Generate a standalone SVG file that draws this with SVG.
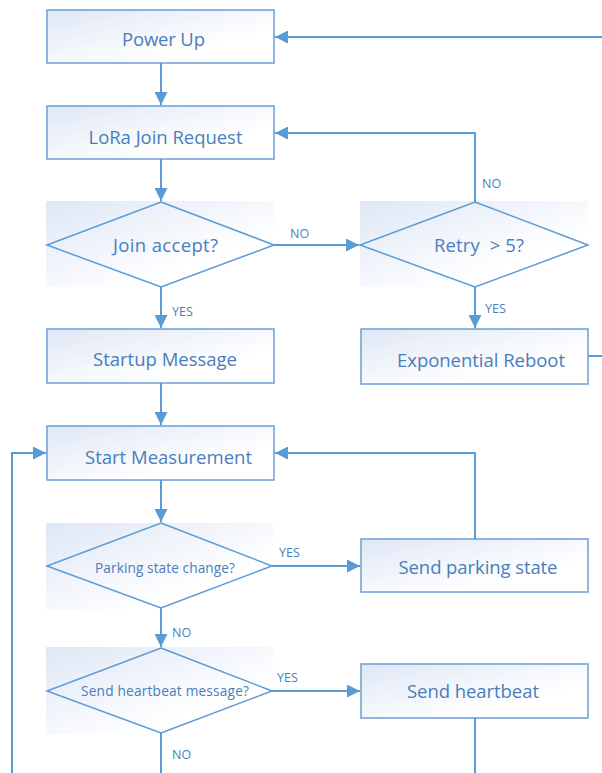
<svg xmlns="http://www.w3.org/2000/svg" width="602" height="773" viewBox="0 0 602 773">
<style>
.box{fill:url(#g);stroke:#6a9fd6;stroke-width:1.5}
.bg{fill:url(#g)}
.dia{fill:none;stroke:#5b9bd5;stroke-width:1.5}
.t{font-family:"Open Sans","Noto Sans",sans-serif;font-size:18.5px;fill:#4a7ebb;text-anchor:middle}
.s{font-family:"Open Sans","Noto Sans",sans-serif;font-size:13.7px;fill:#4a7ebb;text-anchor:middle}
.l{font-family:"Open Sans","Noto Sans",sans-serif;font-size:12.5px;fill:#4a7ebb}
.c{fill:none;stroke:#5b9bd5;stroke-width:2}
</style>
<defs>
<linearGradient id="g" x1="0" y1="0" x2="1" y2="1">
<stop offset="0" stop-color="#dfe7f5"/>
<stop offset="0.7" stop-color="#ffffff"/>
</linearGradient>
<marker id="a" viewBox="0 0 10 10" refX="10" refY="5" markerWidth="6.5" markerHeight="6.5" orient="auto" markerUnits="strokeWidth">
<path d="M0,0 L10,5 L0,10 Z" fill="#5b9bd5"/>
</marker>
</defs>
<rect width="602" height="773" fill="#ffffff"/>
<g id="power-up">
<rect class="box" x="47" y="10" width="227" height="53"/>
<text class="t" x="163.5" y="45.5" textLength="83">Power Up</text>
</g>
<g id="lora-join">
<rect class="box" x="47" y="106" width="227" height="53"/>
<text class="t" x="165.5" y="144" textLength="154">LoRa Join Request</text>
</g>
<g id="join-accept">
<rect class="bg" x="46" y="201" width="228" height="86"/>
<polygon class="dia" points="161,202 274,245 161,287 47,245"/>
<text class="t" x="165.5" y="252" textLength="105">Join accept?</text>
</g>
<g id="retry">
<rect class="bg" x="360" y="201" width="228" height="86"/>
<polygon class="dia" points="475,202 588,245 475,287 360,245"/>
<text class="t" x="479" y="252" textLength="90" xml:space="preserve">Retry  &gt; 5?</text>
</g>
<g id="startup">
<rect class="box" x="47" y="329" width="227" height="54"/>
<text class="t" x="165" y="366" textLength="144">Startup Message</text>
</g>
<g id="reboot">
<rect class="box" x="361" y="329" width="227" height="55"/>
<text class="t" x="481" y="366.5" textLength="168">Exponential Reboot</text>
</g>
<g id="start-measurement">
<rect class="box" x="47" y="426" width="227" height="54"/>
<text class="t" x="168.5" y="463.5" textLength="167">Start Measurement</text>
</g>
<g id="parking-change">
<rect class="bg" x="46" y="523" width="227" height="87"/>
<polygon class="dia" points="161,523 272,566 161,608 47,566"/>
<text class="s" x="165" y="572.5" textLength="140">Parking state change?</text>
</g>
<g id="send-parking">
<rect class="box" x="361" y="539" width="227" height="53"/>
<text class="t" x="478" y="574" textLength="159">Send parking state</text>
</g>
<g id="heartbeat-q">
<rect class="bg" x="46" y="647" width="227" height="87"/>
<polygon class="dia" points="161,648 272,691 161,733 47,691"/>
<text class="s" x="165" y="695.5" textLength="168">Send heartbeat message?</text>
</g>
<g id="send-heartbeat">
<rect class="box" x="361" y="664" width="227" height="54"/>
<text class="t" x="473" y="697.5" textLength="132">Send heartbeat</text>
</g>
<g id="connectors">
<path class="c" d="M161,63 V105" marker-end="url(#a)"/>
<path class="c" d="M161,159 V201" marker-end="url(#a)"/>
<path class="c" d="M274,245 H359" marker-end="url(#a)"/>
<path class="c" d="M475,202 V133 H275" marker-end="url(#a)"/>
<path class="c" d="M475,287 V328" marker-end="url(#a)"/>
<path class="c" d="M588,356 H612 V37 H275" marker-end="url(#a)"/>
<path class="c" d="M161,287 V328" marker-end="url(#a)"/>
<path class="c" d="M161,383 V425" marker-end="url(#a)"/>
<path class="c" d="M161,480 V522" marker-end="url(#a)"/>
<path class="c" d="M272,566 H360" marker-end="url(#a)"/>
<path class="c" d="M475,539 V453 H275" marker-end="url(#a)"/>
<path class="c" d="M161,608 V647" marker-end="url(#a)"/>
<path class="c" d="M272,691 H360" marker-end="url(#a)"/>
<path class="c" d="M475,718 V780"/>
<path class="c" d="M161,733 V780"/>
<path class="c" d="M12,780 V453 H46" marker-end="url(#a)"/>
<text class="l" x="290" y="238">NO</text>
<text class="l" x="482" y="188">NO</text>
<text class="l" x="172" y="316">YES</text>
<text class="l" x="485" y="313">YES</text>
<text class="l" x="279" y="557">YES</text>
<text class="l" x="172" y="637">NO</text>
<text class="l" x="277" y="682">YES</text>
<text class="l" x="172" y="759">NO</text>
</g>
</svg>
